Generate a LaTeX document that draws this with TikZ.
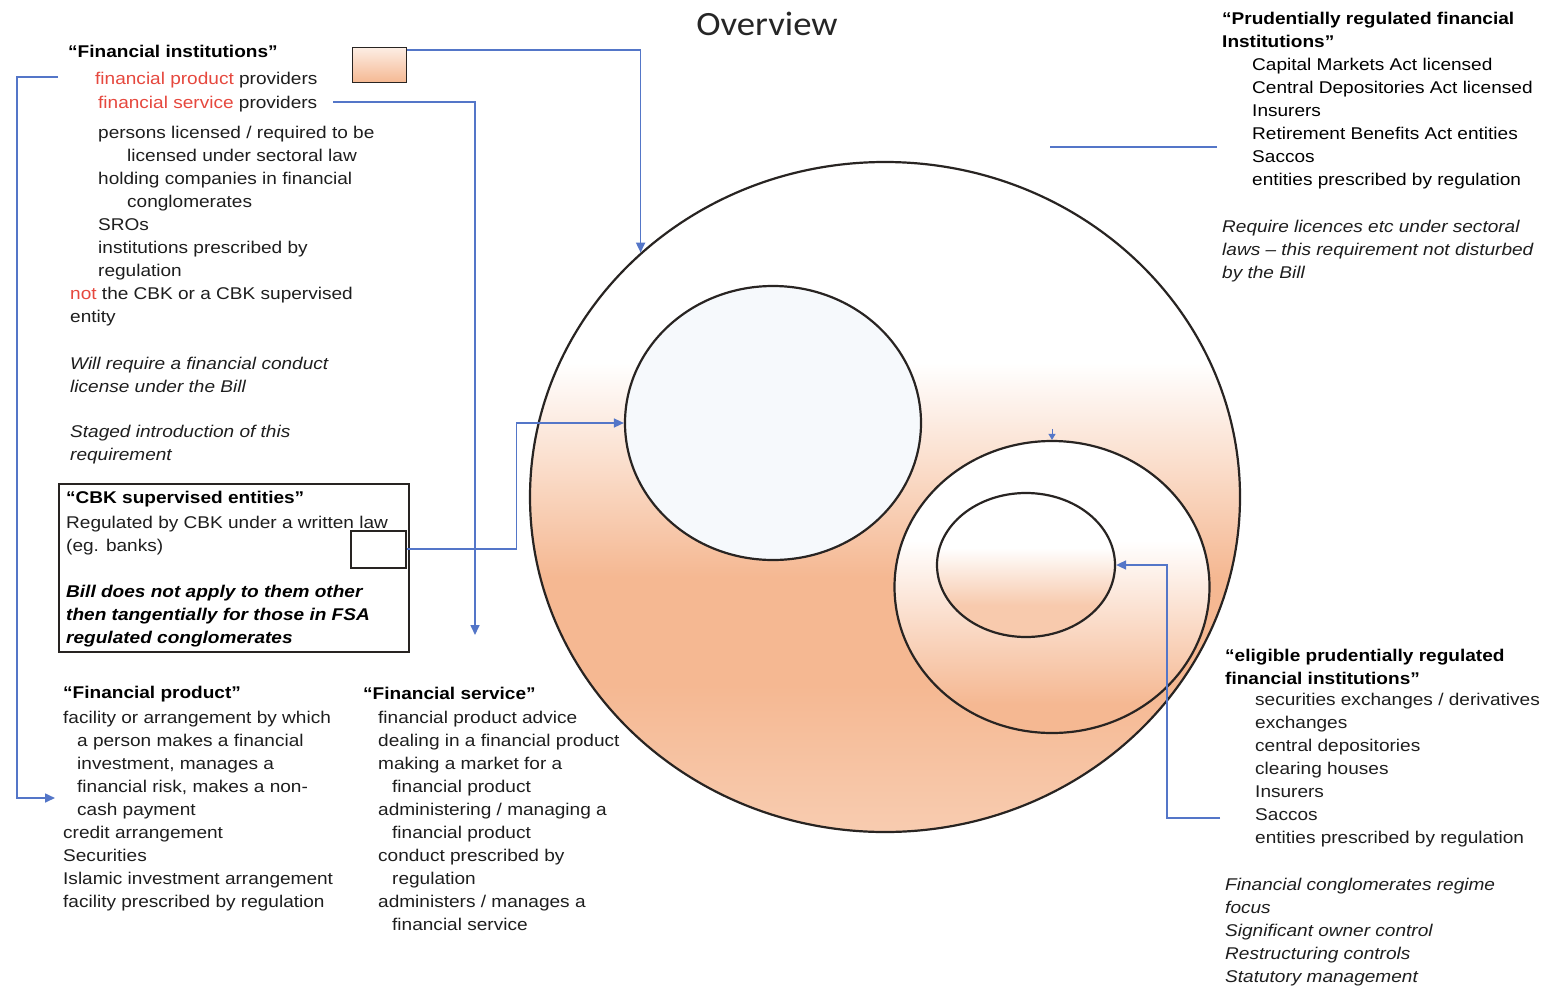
\documentclass[tikz,border=0pt]{standalone}
\usepackage{fontspec}
\setmainfont{Liberation Sans}[FakeStretch=1.12]
\newfontfamily\titlefont{Carlito}[FakeStretch=1.08]
\usetikzlibrary{arrows.meta,calc,shapes.geometric}
\definecolor{txt}{RGB}{30,30,30}
\definecolor{redt}{RGB}{230,72,62}
\definecolor{connc}{RGB}{84,118,200}
\definecolor{edge}{RGB}{40,36,34}
\definecolor{pch}{RGB}{245,184,146}
\definecolor{pchB}{RGB}{248,204,176}
\definecolor{pale}{RGB}{246,249,252}
\colorlet{pchM}{pch!50!white}
\colorlet{pchL}{pch!75!white}
\colorlet{pchT}{pch!25!white}
\pgfdeclareverticalshading{bigshade}{100bp}{color(0bp)=(pchB); color(25bp)=(pchB); color(36bp)=(pch); color(44bp)=(pch); color(52bp)=(pchM); color(60bp)=(white); color(100bp)=(white)}
\pgfdeclareverticalshading{outershade}{100bp}{color(0bp)=(pch); color(30bp)=(pch); color(44bp)=(pchM); color(58bp)=(white); color(100bp)=(white)}
\pgfdeclareverticalshading{innershade}{100bp}{color(0bp)=(pchL); color(36bp)=(pchL); color(56bp)=(white); color(100bp)=(white)}
\pgfdeclareverticalshading{boxshade}{100bp}{color(0bp)=(pch); color(25bp)=(pch); color(75bp)=(pchT); color(100bp)=(pchT)}
\tikzset{
  blk/.style={anchor=north west, yshift=16.1pt, align=left, inner sep=0pt, text=txt, font=\fontsize{17}{23}\selectfont},
  hdr/.style={blk, text=black, font=\fontsize{17}{23}\selectfont\bfseries},
  itl/.style={blk, font=\fontsize{17}{23}\selectfont\itshape},
  bitl/.style={blk, text=black, font=\fontsize{17}{23}\selectfont\bfseries\itshape},
  conn/.style={draw=connc, line width=1.6pt, -{Triangle[length=10pt,width=9pt]}},
  connplain/.style={draw=connc, line width=1.4pt},
  circ/.style={ellipse, draw=edge, line width=2.2pt, inner sep=0pt},
}
\begin{document}
\begin{tikzpicture}[x=1pt,y=-1pt]
\fill[white] (0,0) rectangle (1541,985);
\useasboundingbox (0,0) rectangle (1541,985);

% title
\node[font=\titlefont\fontsize{34}{40}\selectfont, anchor=base, inner sep=0pt, text=black!85] (title) at (767,35) {Overview};

% circles
\node[circ, shade, shading=bigshade, minimum width=710pt, minimum height=670pt] (big) at (885,497) {};
\node[circ, fill=pale, minimum width=296pt, minimum height=274pt] (leftc) at (773,423) {};
\node[circ, shade, shading=outershade, minimum width=315pt, minimum height=292pt] (outer) at (1052,587) {};
\node[circ, shade, shading=innershade, minimum width=178pt, minimum height=144pt] (inner) at (1026,565) {};

% top-left block
\node[hdr] (fiHead) at (68,57) {\strut “Financial institutions”};
\node[blk] (fpp) at (95,84) {\strut\textcolor{redt}{financial product} providers};
\node[blk] (fsp) at (98,108) {\strut\textcolor{redt}{financial service} providers};
\node[blk] (fiList) at (70,138) {\strut\hspace*{28pt}persons licensed / required to be\\
\hspace*{57pt}licensed under sectoral law\\
\hspace*{28pt}holding companies in financial\\
\hspace*{57pt}conglomerates\\
\hspace*{28pt}SROs\\
\hspace*{28pt}institutions prescribed by\\
\hspace*{28pt}regulation\\
\textcolor{redt}{not} the CBK or a CBK supervised\\
entity};
\node[itl] (fiNoteA) at (70,369) {\strut Will require a financial conduct\\ license under the Bill};
\node[itl] (fiNoteB) at (70,437) {\strut Staged introduction of this\\ requirement};
\node[draw=edge, line width=1.4pt, shade, shading=boxshade, minimum width=54pt, minimum height=35pt, inner sep=0pt, anchor=north west] (prodbox) at (352,47) {};

% CBK box
\node[draw=edge, line width=1.5pt, minimum width=350pt, minimum height=168pt, inner sep=0pt, anchor=north west] (cbk) at (58,483) {};
\node[hdr] (cbkHead) at (66,503) {\strut “CBK supervised entities”};
\node[blk] (cbkText) at (66,528) {\strut Regulated by CBK under a written law\\ (eg. banks)};
\node[bitl] (cbkNote) at (66,597) {\strut Bill does not apply to them other\\ then tangentially for those in FSA\\ regulated conglomerates};
\node[draw=edge, line width=1.5pt, fill=white, minimum width=55pt, minimum height=37pt, inner sep=0pt, anchor=north west] (cbkbox) at (350,530) {};

% Financial product
\node[hdr] (fpHead) at (63,698) {\strut “Financial product”};
\node[blk] (fpList) at (63,723) {\strut facility or arrangement by which\\
\hspace*{14pt}a person makes a financial\\
\hspace*{14pt}investment, manages a\\
\hspace*{14pt}financial risk, makes a non-\\
\hspace*{14pt}cash payment\\
credit arrangement\\
Securities\\
Islamic investment arrangement\\
facility prescribed by regulation};

% Financial service
\node[hdr] (fsHead) at (363,699) {\strut “Financial service”};
\node[blk] (fsList) at (378,723) {\strut financial product advice\\
dealing in a financial product\\
making a market for a\\
\hspace*{14pt}financial product\\
administering / managing a\\
\hspace*{14pt}financial product\\
conduct prescribed by\\
\hspace*{14pt}regulation\\
administers / manages a\\
\hspace*{14pt}financial service};

% top right
\node[hdr] (prHead) at (1222,24) {\strut “Prudentially regulated financial\\ Institutions”};
\node[blk, text=black] (prList) at (1252,70) {\strut Capital Markets Act licensed\\
Central Depositories Act licensed\\
Insurers\\
Retirement Benefits Act entities\\
Saccos\\
entities prescribed by regulation};
\node[itl] (prNote) at (1222,232) {\strut Require licences etc under sectoral\\ laws – this requirement not disturbed\\ by the Bill};

% bottom right
\node[hdr] (epHead) at (1225,661) {\strut “eligible prudentially regulated\\ financial institutions”};
\node[blk] (epList) at (1255,705) {\strut securities exchanges / derivatives\\
exchanges\\
central depositories\\
clearing houses\\
Insurers\\
Saccos\\
entities prescribed by regulation};
\node[itl] (epNote) at (1225,890) {\strut Financial conglomerates regime\\
focus\\
Significant owner control\\
Restructuring controls\\
Statutory management};

% connectors
\coordinate (fsA) at (333,102);
\coordinate (fsB) at (475,635);
\coordinate (fpA) at (58,77);
\coordinate (fpB) at (55,798);
\coordinate (elA) at (1220,818);
\coordinate (prA) at (1217,147);

\draw[conn] ([yshift=-3pt]prodbox.north east) -| (big.135.7);
\draw[conn] (fsA) -| (fsB);
\draw[conn] (fpA) -- ++(-41,0) |- (fpB);
\draw[conn] (cbkbox.east) -- ++(110,0) |- (leftc.west);
\draw[conn] (elA) -- ++(-53,0) |- (inner.east);
\draw[connplain] (prA) -- ++(-167,0);
\draw[conn, line width=1pt, -{Triangle[length=6pt,width=7pt]}] ([yshift=11pt]outer.north) -- (outer.north);
\end{tikzpicture}
\end{document}
